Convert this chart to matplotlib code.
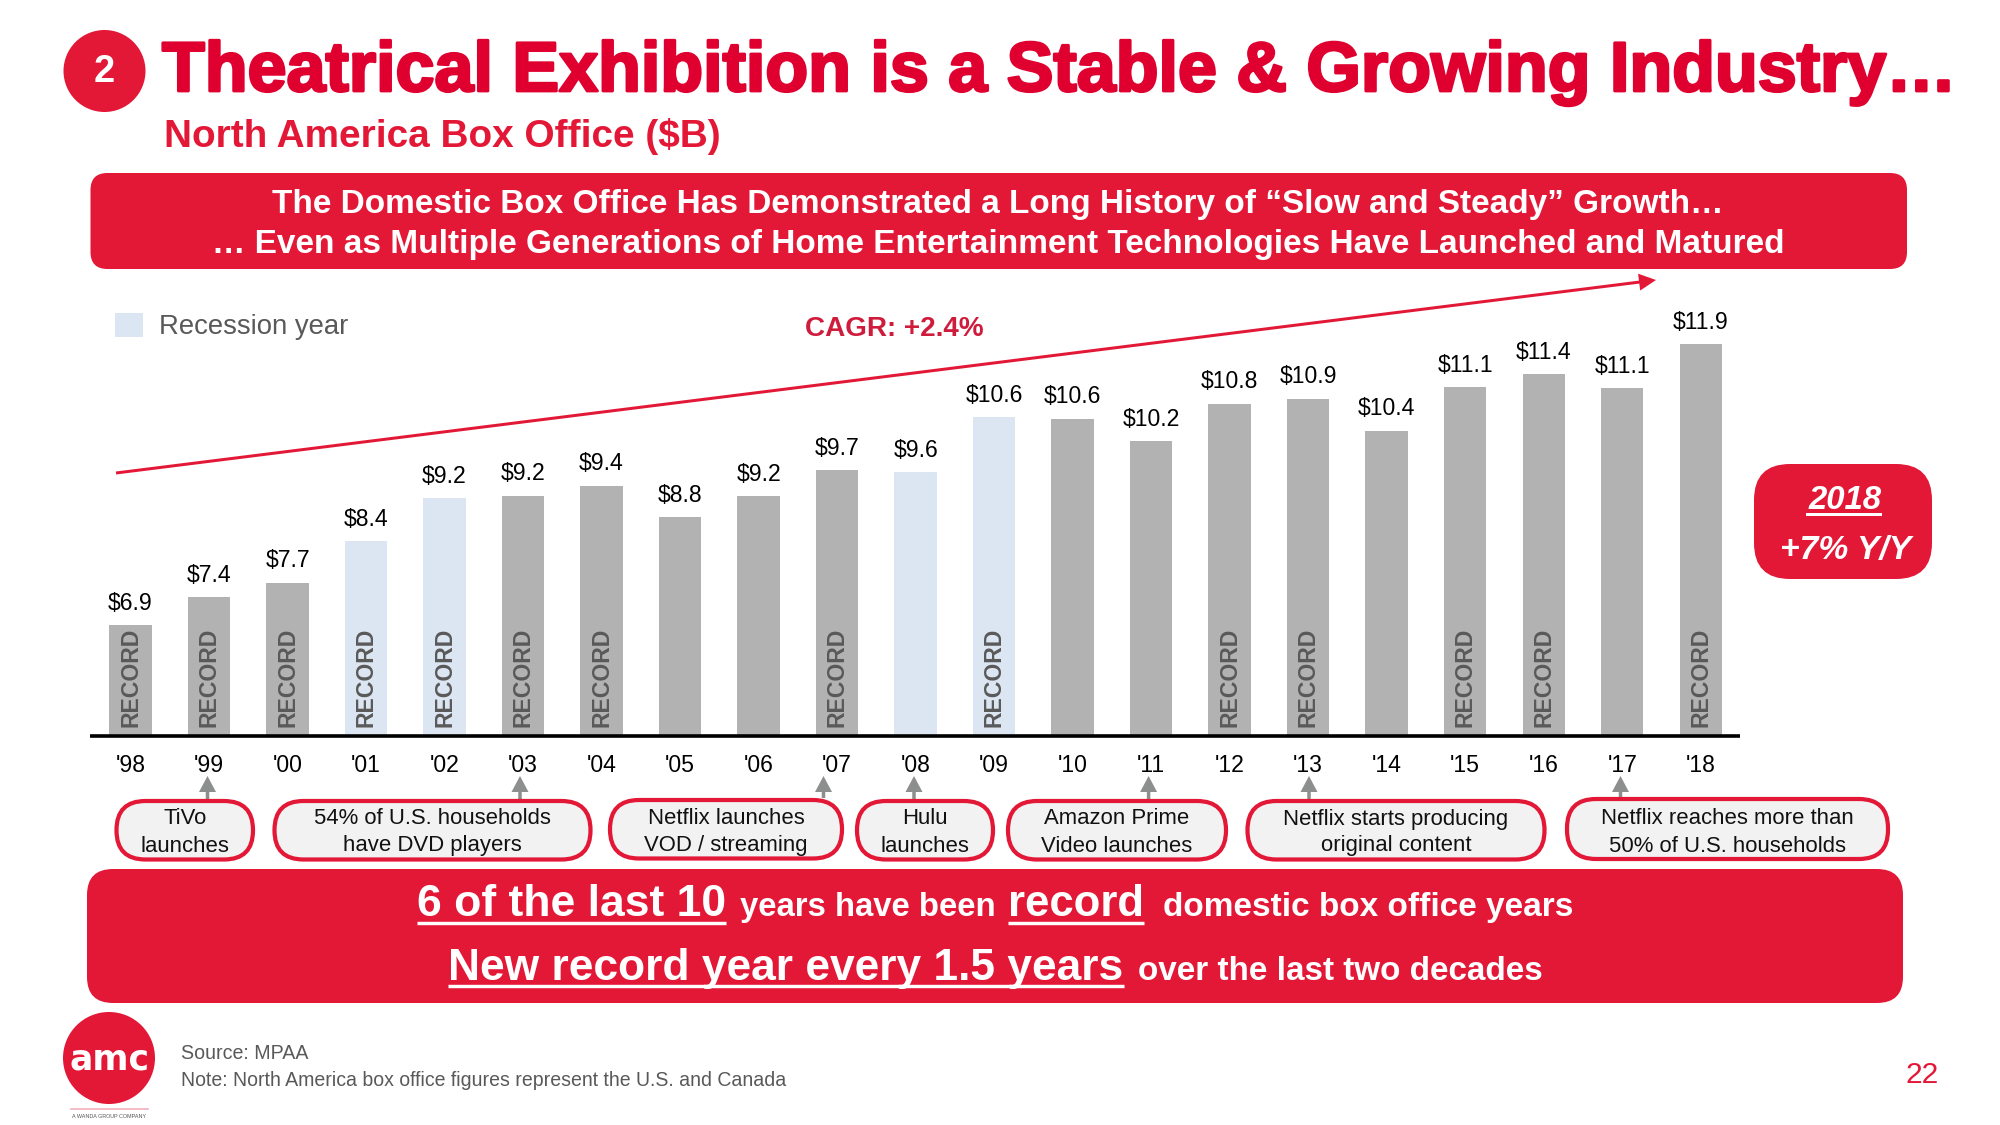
import matplotlib
matplotlib.use("Agg")
import matplotlib.pyplot as plt
from matplotlib.patches import FancyBboxPatch, Circle, Rectangle, FancyArrow
import matplotlib.patheffects as pe

years = ["'98","'99","'00","'01","'02","'03","'04","'05","'06","'07","'08","'09","'10","'11","'12","'13","'14","'15","'16","'17","'18"]
values = [6.9,7.4,7.66,8.4,9.16,9.21,9.38,8.82,9.2,9.66,9.62,10.6,10.58,10.18,10.84,10.93,10.36,11.14,11.37,11.12,11.9]
recession = ["'01","'02","'08","'09"]
record = ["'98","'99","'00","'01","'02","'03","'04","'07","'09","'12","'13","'15","'16","'18"]
events = ["TiVo\nlaunches","54% of U.S. households\nhave DVD players","Netflix launches\nVOD / streaming","Hulu\nlaunches",
          "Amazon Prime\nVideo launches","Netflix starts producing\noriginal content","Netflix reaches more than\n50% of U.S. households"]

plt.rcParams['font.family'] = ['Liberation Sans', 'DejaVu Sans']
RED = '#E31837'; TITLE = '#DF0030'; GREY = '#B2B2B2'; BLUE = '#DCE6F2'; DARK = '#595959'; ARW = '#8C8F8E'
W, H = 2000, 1125
PT = 0.72

fig = plt.figure(figsize=(20, 11.25), dpi=100, facecolor='white')
ov = fig.add_axes([0, 0, 1, 1]); ov.set_xlim(0, W); ov.set_ylim(H, 0); ov.axis('off')
r = fig.canvas.get_renderer()

def text(x, y, s, px, color='black', ha='center', va='center', width=None, **kw):
    t = ov.text(x, y, s, fontsize=px*PT, color=color, ha=ha, va=va, **kw)
    if width:
        w = t.get_window_extent(r).width
        t.set_fontsize(px*PT*width/w)
    return t

def run(x0, x1, base, s, px, under=False, color='white', **kw):
    t = text(x0, base, s, px, color=color, ha='left', va='baseline', width=x1-x0, **kw)
    if under:
        ov.plot([x0, x1], [base+under, base+under], color=color, lw=3.4*PT, solid_capstyle='butt')
    return t

def box(x0, y0, x1, y1, rad, fc, ec='none', lw=0):
    ov.add_patch(FancyBboxPatch((x0, y0), x1-x0, y1-y0, boxstyle=f"round,pad=0,rounding_size={rad}",
                                fc=fc, ec=ec, lw=lw*PT))

# header
ov.add_patch(Circle((104.5, 71), 41, fc=RED, ec='none'))
text(104.5, 72, "2", 38, color='white', fontweight='bold')
t = run(162, 1957, 91, "Theatrical Exhibition is a Stable & Growing Industry…", 70, color=TITLE, fontweight='bold')
t.set_path_effects([pe.withStroke(linewidth=2.0, foreground=TITLE)])
run(164, 720, 147, "North America Box Office ($B)", 38, color=RED, fontweight='bold')

# top banner
box(90.5, 173, 1907, 269, 17, RED)
text(998, 204.5, "The Domestic Box Office Has Demonstrated a Long History of “Slow and Steady” Growth…", 33, color='white', fontweight='bold', width=1451)
text(998, 244.5, "… Even as Multiple Generations of Home Entertainment Technologies Have Launched and Matured", 33, color='white', fontweight='bold', width=1568)

# legend, CAGR
ov.add_patch(Rectangle((115, 313), 28, 24, fc=BLUE, ec='none'))
text(159, 327.5, "Recession year", 28, color=DARK, ha='left', width=190)
text(894, 329.5, "CAGR: +2.4%", 28, color='#D01C3C', fontweight='bold', width=179)
ov.add_patch(FancyArrow(116, 473, 1540, -193, width=3, head_width=17, head_length=17,
                        length_includes_head=True, fc=RED, ec='none'))

# chart
BASE = 735.5
ax = fig.add_axes([90/W, (H-BASE)/H, 1650/W, 435.5/H])
ax.patch.set_alpha(0)
x = list(range(len(years)))
colors = [BLUE if y in recession else GREY for y in years]
ax.bar(x, values, width=0.54, color=colors, linewidth=0)
ax.set_xlim(-0.516, 20.5)
ax.set_ylim(4.94, 4.94 + 435.5/56.2)
for s in ('top', 'left', 'right'):
    ax.spines[s].set_visible(False)
ax.spines['bottom'].set_linewidth(3.6*PT)
ax.spines['bottom'].set_capstyle('butt')
ax.set_yticks([])
ax.set_xticks(x, years, fontsize=23*PT)
ax.tick_params(axis='x', length=0, pad=13)
for i, v in enumerate(values):
    ax.annotate(f"${v:.1f}", (i, v), xytext=(0, 22*PT), textcoords='offset points',
                ha='center', va='center', fontsize=23*PT, color='black')
    if years[i] in record:
        ax.annotate("RECORD", (i, 4.94), xytext=(0, 58*PT), textcoords='offset points', rotation=90,
                    ha='center', va='center', fontsize=23*PT, fontweight='bold', color=DARK)

# event arrows and pills
for ax_x, y0 in [(207.5, 799), (520, 799), (823.5, 798), (914, 799), (1148.6, 799), (1309, 799), (1620.5, 797)]:
    ov.add_patch(FancyArrow(ax_x, y0, 0, 776-y0, width=3.5, head_width=17, head_length=16,
                            length_includes_head=True, fc=ARW, ec='none'))
pills = [(114.5, 799, 255, 861.5), (272.5, 799, 592.5, 861.5), (608, 798, 844, 860.5), (855, 799, 995, 861.5),
         (1006, 799, 1228, 861.5), (1245.5, 799, 1546.5, 861.5), (1565, 797, 1890, 861)]
for (a, b, c, d), s in zip(pills, events):
    box(a+2, b+2, c-2, d-2, 29, '#F2F2F2', ec=RED, lw=4.2)
    l1, l2 = s.split("\n")
    cx = (a+c)/2
    text(cx, 819, l1, 22.2, color='#111111')
    text(cx, 846, l2, 22.2, color='#111111')

# bottom banner
box(87, 869, 1903, 1003, 26, RED)
run(417, 726, 916, "6 of the last 10", 44, under=7, fontweight='bold')
run(740, 996, 916, "years have been", 34, fontweight='bold')
run(1008, 1144, 916, "record", 44, under=7, fontweight='bold')
run(1163, 1573, 916, "domestic box office years", 34, fontweight='bold')
run(448, 1124, 980, "New record year every 1.5 years", 44, under=6, fontweight='bold')
run(1138, 1543, 980, "over the last two decades", 34, fontweight='bold')

# right badge
box(1754, 464, 1932, 579, 36, RED)
text(1845, 500.5, "2018", 36, color='white', fontweight='bold', fontstyle='italic', width=73)
ov.plot([1807, 1880], [514, 514], color='white', lw=3*PT)
text(1846, 550.5, "+7% Y/Y", 34, color='white', fontweight='bold', fontstyle='italic', width=131)

# footer
ov.add_patch(Circle((109, 1058), 46, fc=RED, ec='none'))
text(110, 1059, "amc", 36, color='white', fontweight='bold', width=80, family='DejaVu Sans')
ov.plot([71, 147.5], [1109, 1109], color='#F0B0BC', lw=1.2)
text(109, 1116, "A WANDA GROUP COMPANY", 6, color='#555555', width=74)
text(181, 1053.5, "Source: MPAA", 20, color=DARK, ha='left', width=127)
text(181, 1080.5, "Note: North America box office figures represent the U.S. and Canada", 20, color=DARK, ha='left', width=604)
text(1922, 1075, "22", 30, color=RED)

fig.savefig("out.png", dpi=100)
